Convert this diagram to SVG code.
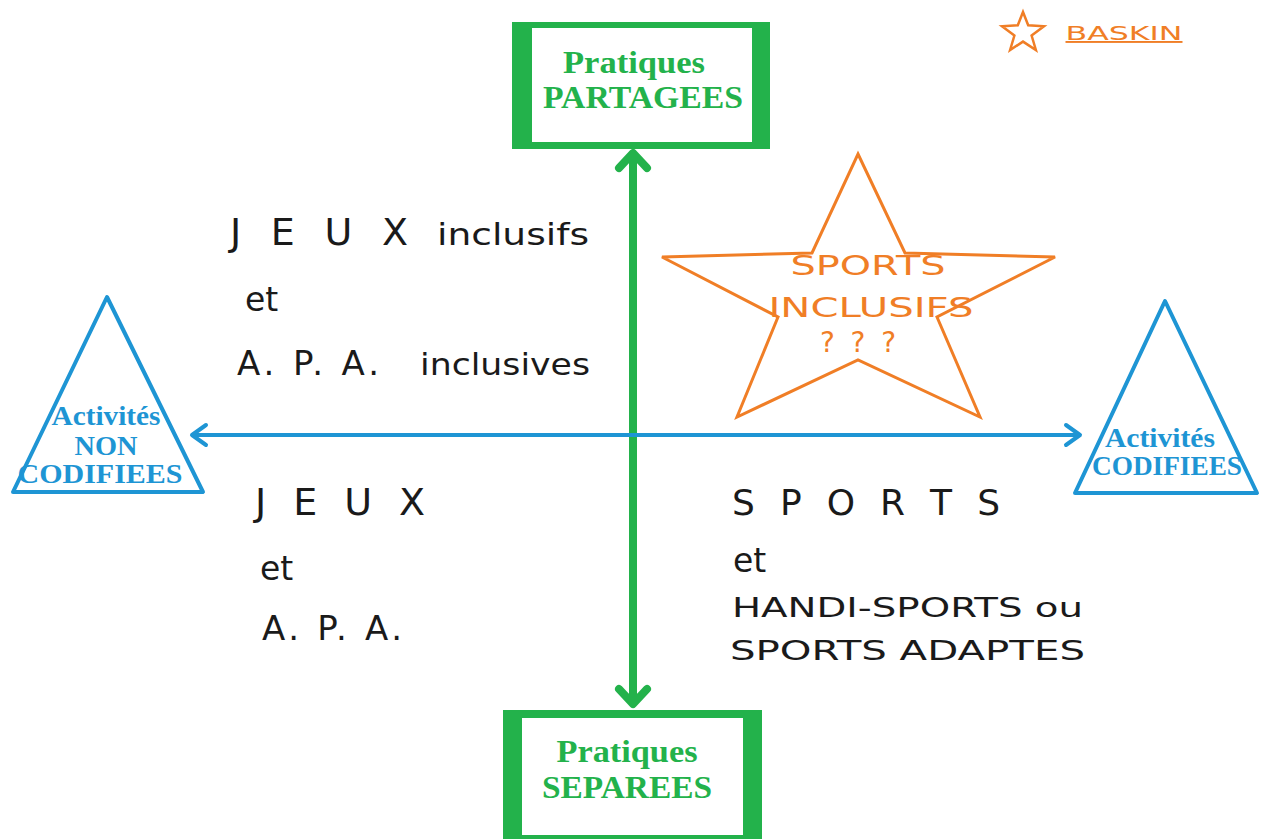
<svg xmlns="http://www.w3.org/2000/svg" width="1261" height="839" viewBox="0 0 1261 839">
<style>
.serif{font-family:"Liberation Serif","DejaVu Serif",serif;font-weight:bold;text-anchor:middle}
.g{fill:#23b24b}
.b{fill:#1e95d4}
.hand{font-family:"DejaVu Sans","Liberation Sans",sans-serif;fill:#1a1a1a}
.or{font-family:"DejaVu Sans","Liberation Sans",sans-serif;fill:#f07e26;text-anchor:middle}
</style>
<defs>
<marker id="ag" viewBox="-20 -20 40 40" markerWidth="40" markerHeight="40" refX="0" refY="0" markerUnits="userSpaceOnUse" orient="auto-start-reverse">
<path d="M-15,-14 L0,0 L-15,14" fill="none" stroke="#23b24b" stroke-width="8" stroke-linecap="round" stroke-linejoin="round"/>
</marker>
<marker id="ab" viewBox="-20 -20 40 40" markerWidth="40" markerHeight="40" refX="0" refY="0" markerUnits="userSpaceOnUse" orient="auto-start-reverse">
<path d="M-14,-10 L0,0 L-14,10" fill="none" stroke="#1e95d4" stroke-width="4" stroke-linecap="round" stroke-linejoin="round"/>
</marker>
</defs>
<rect width="1261" height="839" fill="#fff"/>
<g id="connectors">
<line x1="633" y1="153" x2="633" y2="704" stroke="#23b24b" stroke-width="8" marker-start="url(#ag)" marker-end="url(#ag)"/>
<line x1="192" y1="435" x2="1080" y2="435" stroke="#1e95d4" stroke-width="4" marker-start="url(#ab)" marker-end="url(#ab)"/>
</g>
<g id="partagees">
<rect x="512" y="22" width="258" height="127" fill="#23b24b"/>
<rect x="532" y="28" width="220" height="114" fill="#fff"/>
<text x="634" y="73" class="serif g" font-size="32" textLength="142" lengthAdjust="spacingAndGlyphs">Pratiques</text>
<text x="643" y="108" class="serif g" font-size="32" textLength="200" lengthAdjust="spacingAndGlyphs">PARTAGEES</text>
</g>
<g id="separees">
<rect x="503" y="710" width="259" height="132" fill="#23b24b"/>
<rect x="522" y="718" width="221" height="117" fill="#fff"/>
<text x="627" y="762" class="serif g" font-size="32" textLength="141" lengthAdjust="spacingAndGlyphs">Pratiques</text>
<text x="627" y="798" class="serif g" font-size="32" textLength="170" lengthAdjust="spacingAndGlyphs">SEPAREES</text>
</g>
<g id="non-codifiees">
<polygon points="107,297 203,492 13,492" fill="none" stroke="#1e95d4" stroke-width="4" stroke-linejoin="round"/>
<text x="106" y="425" class="serif b" font-size="27" textLength="109" lengthAdjust="spacingAndGlyphs">Activités</text>
<text x="106" y="455" class="serif b" font-size="27" textLength="63" lengthAdjust="spacingAndGlyphs">NON</text>
<text x="100" y="483" class="serif b" font-size="27" textLength="165" lengthAdjust="spacingAndGlyphs">CODIFIEES</text>
</g>
<g id="codifiees">
<polygon points="1165,301 1257,493 1075,493" fill="none" stroke="#1e95d4" stroke-width="4" stroke-linejoin="round"/>
<text x="1160" y="447" class="serif b" font-size="27" textLength="110" lengthAdjust="spacingAndGlyphs">Activités</text>
<text x="1167" y="475" class="serif b" font-size="27" textLength="150" lengthAdjust="spacingAndGlyphs">CODIFIEES</text>
</g>
<g id="sports-inclusifs">
<polygon points="858,154 905,253 1055,257 937,317 980,417 858,360 737,417 778,317 662,257 812,253" fill="none" stroke="#f07e26" stroke-width="3" stroke-linejoin="miter"/>
<text x="868" y="275" class="or" font-size="27" textLength="155" lengthAdjust="spacingAndGlyphs">SPORTS</text>
<text x="871" y="317" class="or" font-size="27" textLength="205" lengthAdjust="spacingAndGlyphs">INCLUSIFS</text>
<text x="858" y="352" class="or" font-size="28" textLength="76" lengthAdjust="spacing">? ? ?</text>
</g>
<g id="baskin">
<polygon points="1023,12 1028.2,25.3 1044,26.3 1031.6,35.6 1035.9,50 1023,41.6 1010.1,50 1014.4,35.6 1002,26.3 1017.8,25.3" fill="none" stroke="#f07e26" stroke-width="2.5" stroke-linejoin="miter"/>
<text x="1124" y="40" class="or" font-size="19" text-decoration="underline" textLength="117" lengthAdjust="spacingAndGlyphs">BASKIN</text>
</g>
<g id="jeux-inclusifs">
<text x="230" y="245" class="hand" font-size="38" textLength="178" lengthAdjust="spacing">J E U X</text>
<text x="437" y="245" class="hand" font-size="31" textLength="152" lengthAdjust="spacingAndGlyphs">inclusifs</text>
<text x="245" y="311" class="hand" font-size="33">et</text>
<text x="237" y="375" class="hand" font-size="34" textLength="142" lengthAdjust="spacing">A. P. A.</text>
<text x="420" y="375" class="hand" font-size="31" textLength="170" lengthAdjust="spacingAndGlyphs">inclusives</text>
</g>
<g id="jeux">
<text x="255" y="515" class="hand" font-size="38" textLength="170" lengthAdjust="spacing">J E U X</text>
<text x="260" y="580" class="hand" font-size="33">et</text>
<text x="262" y="640" class="hand" font-size="34" textLength="140" lengthAdjust="spacing">A. P. A.</text>
</g>
<g id="sports">
<text x="732" y="515" class="hand" font-size="36" textLength="268" lengthAdjust="spacing">S P O R T S</text>
<text x="733" y="572" class="hand" font-size="33">et</text>
<text x="732" y="617" class="hand" font-size="27" textLength="351" lengthAdjust="spacingAndGlyphs">HANDI-SPORTS ou</text>
<text x="730" y="660" class="hand" font-size="27" textLength="355" lengthAdjust="spacingAndGlyphs">SPORTS ADAPTES</text>
</g>
</svg>
